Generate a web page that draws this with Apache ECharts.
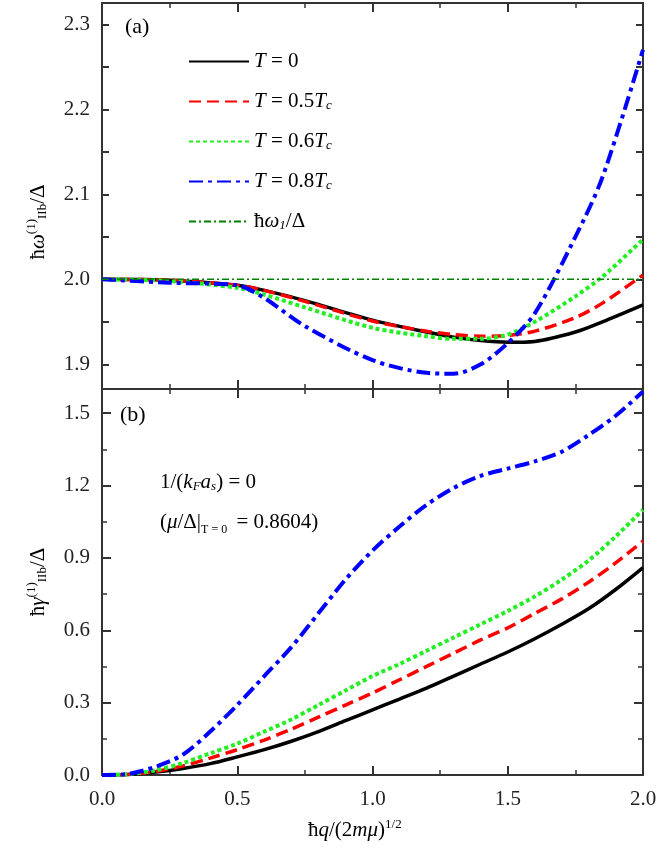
<!DOCTYPE html>
<html>
<head>
<meta charset="utf-8">
<script src="https://cdn.jsdelivr.net/npm/echarts@6/dist/echarts.min.js"></script>
<style>html,body{margin:0;background:#fff}#chart{width:660px;height:864px}</style>
</head>
<body>
<div id="chart"></div>
<script>
// panel (a): real part of mode frequency
var xA = [0, 0.25, 0.5, 0.6, 0.75, 1.0, 1.2, 1.3, 1.4, 1.5, 1.6, 1.75, 1.85, 2.0];
var omegaT0   = [2.0, 1.999, 1.993, 1.987, 1.975, 1.952, 1.938, 1.932, 1.928, 1.926, 1.927, 1.938, 1.950, 1.970];
var omegaT05  = [2.0, 1.999, 1.993, 1.987, 1.974, 1.951, 1.939, 1.935, 1.933, 1.934, 1.939, 1.955, 1.972, 2.005];
var omegaT06  = [2.0, 1.998, 1.990, 1.982, 1.967, 1.943, 1.933, 1.930, 1.930, 1.935, 1.950, 1.980, 2.003, 2.047];
var omegaT08  = [2.0, 1.996, 1.993, 1.978, 1.945, 1.905, 1.890, 1.889, 1.900, 1.925, 1.960, 2.050, 2.120, 2.270];
var omega1    = [2.0, 2.0];
var ticksA    = [1.9, 2.0, 2.1, 2.2, 2.3];
var minorA    = [1.9, 1.95, 2.0, 2.05, 2.1, 2.15, 2.2, 2.25, 2.3];

// panel (b): damping rate
var xB = [0, 0.1, 0.2, 0.3, 0.4, 0.5, 0.6, 0.7, 0.8, 0.9, 1.0, 1.1, 1.2, 1.3, 1.4, 1.5, 1.6, 1.7, 1.8, 1.9, 2.0];
var gammaT0  = [0, 0.002, 0.012, 0.027, 0.047, 0.075, 0.105, 0.14, 0.18, 0.225, 0.27, 0.315, 0.36, 0.41, 0.46, 0.51, 0.565, 0.625, 0.69, 0.77, 0.86];
var gammaT05 = [0, 0.003, 0.015, 0.038, 0.07, 0.105, 0.145, 0.19, 0.24, 0.29, 0.34, 0.395, 0.45, 0.505, 0.56, 0.61, 0.67, 0.73, 0.80, 0.88, 0.97];
var gammaT06 = [0, 0.004, 0.02, 0.05, 0.09, 0.13, 0.18, 0.23, 0.29, 0.35, 0.41, 0.46, 0.515, 0.57, 0.625, 0.68, 0.74, 0.81, 0.89, 0.99, 1.10];
var gammaT08 = [0, 0.005, 0.035, 0.085, 0.18, 0.29, 0.41, 0.53, 0.67, 0.81, 0.93, 1.03, 1.12, 1.19, 1.24, 1.27, 1.30, 1.34, 1.41, 1.49, 1.59];

function pairs(xs, ys) { return xs.map(function (x, i) { return [x, ys[i]]; }); }

var FONT = 'Liberation Serif';
var rich = {
  i: { fontStyle: 'italic', fontFamily: FONT, fontSize: 21, color: '#000' },
  n: { fontFamily: FONT, fontSize: 21, color: '#000' },
  s: { fontStyle: 'italic', fontFamily: FONT, fontSize: 13, color: '#000', verticalAlign: 'bottom', padding: [8, 0, 0, 0] },
  u: { fontFamily: FONT, fontSize: 13, color: '#000', padding: [0, 0, 12, 0] },
  r: { fontFamily: FONT, fontSize: 13, color: '#000', padding: [10, 0, 0, 0] },
  t: { fontFamily: FONT, fontSize: 12, color: '#000', padding: [14, 4, 0, 0] }
};
var lineCol = { color: '#333', width: 2 };

function xAx(grid, labels, pos) {
  return {
    type: 'value', gridIndex: grid, min: 0, max: 2, interval: 0.5, position: pos,
    axisLine: { show: true, onZero: false, lineStyle: lineCol },
    axisTick: { show: true, inside: true, length: 9, lineStyle: lineCol },
    minorTick: { show: true, splitNumber: 2, length: 5, lineStyle: { color: '#333', width: 1.5 } },
    axisLabel: { show: labels, fontFamily: FONT, fontSize: 21, color: '#222', margin: 14,
      formatter: function (v) { return v.toFixed(1); } },
    splitLine: { show: false }
  };
}
function vLabel(x, y, txt) {
  return { type: 'text', x: x, y: y, rotation: Math.PI / 2, originX: 0, originY: 0,
    style: { text: txt, rich: rich, align: 'center', verticalAlign: 'middle' } };
}

var chart = echarts.init(document.getElementById('chart'));
chart.setOption({
  animation: false,
  backgroundColor: '#fff',
  grid: [
    { left: 102, right: 17, top: 3, height: 386 },
    { left: 102, right: 17, top: 389, height: 386 }
  ],
  xAxis: [xAx(0, false, 'bottom'), xAx(0, false, 'top'), xAx(1, true, 'bottom'), xAx(1, false, 'top')],
  yAxis: [
    { type: 'value', gridIndex: 0, min: 1.871, max: 2.325, position: 'left',
      axisLine: { show: true, onZero: false, lineStyle: lineCol },
      axisTick: { show: true, inside: true, length: 7, lineStyle: lineCol, customValues: minorA },
      axisLabel: { fontFamily: FONT, fontSize: 21, color: '#222', margin: 12, customValues: ticksA,
        formatter: function (v) { return v.toFixed(1); } },
      splitLine: { show: false } },
    { type: 'value', gridIndex: 0, min: 1.871, max: 2.325, position: 'right',
      axisLine: { show: true, onZero: false, lineStyle: lineCol },
      axisTick: { show: true, inside: true, length: 7, lineStyle: lineCol, customValues: minorA },
      axisLabel: { show: false }, splitLine: { show: false } },
    { type: 'value', gridIndex: 1, min: 0, max: 1.6, interval: 0.3, position: 'left',
      axisLine: { show: true, onZero: false, lineStyle: lineCol },
      axisTick: { show: true, inside: true, length: 9, lineStyle: lineCol },
      minorTick: { show: true, splitNumber: 2, length: 5, lineStyle: { color: '#333', width: 1.5 } },
      axisLabel: { fontFamily: FONT, fontSize: 21, color: '#222', margin: 12, showMaxLabel: false,
        formatter: function (v) { return v.toFixed(1); } },
      splitLine: { show: false } },
    { type: 'value', gridIndex: 1, min: 0, max: 1.6, interval: 0.3, position: 'right',
      axisLine: { show: true, onZero: false, lineStyle: lineCol },
      axisTick: { show: true, inside: true, length: 9, lineStyle: lineCol },
      minorTick: { show: true, splitNumber: 2, length: 5, lineStyle: { color: '#333', width: 1.5 } },
      axisLabel: { show: false }, splitLine: { show: false } }
  ],
  legend: {
    left: 183, top: 46, orient: 'vertical', itemWidth: 60, itemHeight: 14, itemGap: 19,
    itemStyle: { opacity: 0 },
    textStyle: { rich: rich },
    data: ['T0', 'T05', 'T06', 'T08', 'W1'],
    formatter: function (n) {
      return {
        T0: '{i|T}{n| = 0}',
        T05: '{i|T}{n| = 0.5}{i|T}{s|c}',
        T06: '{i|T}{n| = 0.6}{i|T}{s|c}',
        T08: '{i|T}{n| = 0.8}{i|T}{s|c}',
        W1: '{n|ħ}{i|ω}{s|1}{n|/Δ}'
      }[n];
    }
  },
  graphic: [
    { type: 'text', left: 125, top: 16, style: { text: '(a)', font: '22px ' + FONT, fill: '#000' } },
    { type: 'text', left: 120, top: 404, style: { text: '(b)', font: '22px ' + FONT, fill: '#000' } },
    { type: 'text', left: 160, top: 472, style: { text: '{n|1/(}{i|k}{s|F}{i|a}{s|s}{n|) = 0}', rich: rich } },
    { type: 'text', left: 160, top: 512, style: { text: '{n|(}{i|μ}{n|/Δ|}{t|T = 0}{n| = 0.8604)}', rich: rich } },
    { type: 'text', left: 308, top: 818, style: { text: '{n|ħ}{i|q}{n|/(2}{i|mμ}{n|)}{u|1/2}', rich: rich } },
    vLabel(38, 222, '{n|ħ}{i|ω}{u|(1)}{r|IIb}{n|/Δ}'),
    vLabel(38, 582, '{n|ħ}{i|γ}{u|(1)}{r|IIb}{n|/Δ}')
  ],
  series: [
    { name: 'T0', type: 'line', xAxisIndex: 0, yAxisIndex: 0, smooth: 0.3, symbol: 'none',
      lineStyle: { color: '#000', width: 3.5 }, itemStyle: { color: '#000' }, data: pairs(xA, omegaT0) },
    { name: 'T05', type: 'line', xAxisIndex: 0, yAxisIndex: 0, smooth: 0.3, symbol: 'none',
      lineStyle: { color: '#ff0000', width: 3.5, type: [12, 6] }, itemStyle: { color: '#ff0000' }, data: pairs(xA, omegaT05) },
    { name: 'T06', type: 'line', xAxisIndex: 0, yAxisIndex: 0, smooth: 0.3, symbol: 'none',
      lineStyle: { color: '#22ee22', width: 4, type: [4, 3] }, itemStyle: { color: '#22ee22' }, data: pairs(xA, omegaT06) },
    { name: 'T08', type: 'line', xAxisIndex: 0, yAxisIndex: 0, smooth: 0.3, symbol: 'none',
      lineStyle: { color: '#0000ff', width: 4, type: [14, 5, 4, 5] }, itemStyle: { color: '#0000ff' }, data: pairs(xA, omegaT08) },
    { name: 'W1', type: 'line', xAxisIndex: 0, yAxisIndex: 0, symbol: 'none',
      lineStyle: { color: '#008000', width: 1.5, type: [7, 3, 2, 3] }, itemStyle: { color: '#008000' }, data: pairs([0, 2], omega1) },
    { name: 'T0', type: 'line', xAxisIndex: 2, yAxisIndex: 2, smooth: 0.3, symbol: 'none',
      lineStyle: { color: '#000', width: 3.5 }, data: pairs(xB, gammaT0) },
    { name: 'T05', type: 'line', xAxisIndex: 2, yAxisIndex: 2, smooth: 0.3, symbol: 'none',
      lineStyle: { color: '#ff0000', width: 3.5, type: [12, 6] }, data: pairs(xB, gammaT05) },
    { name: 'T06', type: 'line', xAxisIndex: 2, yAxisIndex: 2, smooth: 0.3, symbol: 'none',
      lineStyle: { color: '#22ee22', width: 4, type: [4, 3] }, data: pairs(xB, gammaT06) },
    { name: 'T08', type: 'line', xAxisIndex: 2, yAxisIndex: 2, smooth: 0.3, symbol: 'none',
      lineStyle: { color: '#0000ff', width: 4, type: [14, 5, 4, 5] }, data: pairs(xB, gammaT08) }
  ]
});
</script>
</body>
</html>
